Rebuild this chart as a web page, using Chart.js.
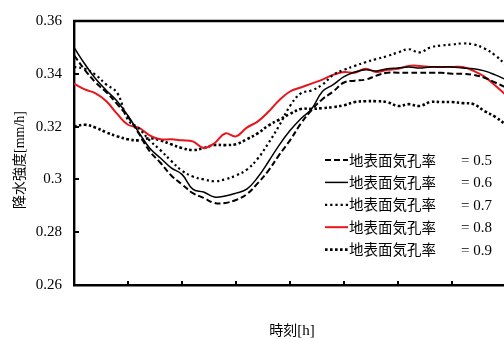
<!DOCTYPE html>
<html>
<head>
<meta charset="utf-8">
<script src="https://cdn.jsdelivr.net/npm/chart.js@4.4.1/dist/chart.umd.min.js"></script>
<style>
  html, body { margin: 0; padding: 0; background: #fff; overflow: hidden; width: 504px; height: 340px; }
  canvas { display: block; }
</style>
</head>
<body>
<canvas id="c" width="510" height="340"></canvas>
<script>
// time axis [h]
const hours = [0, 0.2, 0.4, 0.6, 0.8, 1, 1.2, 1.4, 1.6, 1.8, 2, 2.2, 2.4, 2.6, 2.8, 3, 3.2, 3.4, 3.6, 3.8,
  4, 4.2, 4.4, 4.6, 4.8, 5, 5.2, 5.4, 5.6, 5.8, 6, 6.2, 6.4, 6.6, 6.8, 7, 7.2, 7.4, 7.6, 7.8, 8];

// precipitation intensity [mm/h] for each surface stomatal ratio
const rate05 = [0.3470, 0.3415, 0.3367, 0.3330, 0.3285, 0.3237, 0.3174, 0.3107, 0.3063, 0.3015,
  0.2981, 0.2948, 0.2930, 0.2911, 0.2911, 0.2922, 0.2944, 0.2985, 0.3033, 0.3093,
  0.3148, 0.3211, 0.3263, 0.3304, 0.3333, 0.3367, 0.3374, 0.3378, 0.3393, 0.3404,
  0.3404, 0.3404, 0.3404, 0.3404, 0.3404, 0.3400, 0.3400, 0.3396, 0.3385, 0.3367, 0.3348];
const rate06 = [0.3500, 0.3437, 0.3381, 0.3337, 0.3296, 0.3241, 0.3178, 0.3119, 0.3081, 0.3044,
  0.3019, 0.2963, 0.2952, 0.2933, 0.2937, 0.2948, 0.2963, 0.3007, 0.3067, 0.3130,
  0.3185, 0.3230, 0.3267, 0.3333, 0.3359, 0.3389, 0.3407, 0.3415, 0.3411, 0.3419,
  0.3422, 0.3426, 0.3422, 0.3426, 0.3426, 0.3426, 0.3422, 0.3419, 0.3411, 0.3396, 0.3378];
const rate07 = [0.3426, 0.3419, 0.3396, 0.3359, 0.3328, 0.3225, 0.3193, 0.3148, 0.3111, 0.3070,
  0.3033, 0.3011, 0.3000, 0.2993, 0.3000, 0.3015, 0.3037, 0.3078, 0.3137, 0.3204,
  0.3278, 0.3326, 0.3337, 0.3359, 0.3396, 0.3415, 0.3430, 0.3444, 0.3456, 0.3467,
  0.3481, 0.3493, 0.3481, 0.3500, 0.3507, 0.3511, 0.3515, 0.3511, 0.3496, 0.3470, 0.3433];
const rate08 = [0.3363, 0.3341, 0.3326, 0.3296, 0.3248, 0.3207, 0.3196, 0.3167, 0.3152, 0.3152,
  0.3148, 0.3144, 0.3119, 0.3137, 0.3174, 0.3163, 0.3196, 0.3219, 0.3256, 0.3300,
  0.3333, 0.3348, 0.3363, 0.3378, 0.3396, 0.3407, 0.3404, 0.3419, 0.3407, 0.3415,
  0.3419, 0.3430, 0.3430, 0.3426, 0.3426, 0.3426, 0.3426, 0.3411, 0.3389, 0.3356, 0.3319];
const rate09 = [0.3200, 0.3207, 0.3196, 0.3178, 0.3163, 0.3152, 0.3148, 0.3156, 0.3148, 0.3133,
  0.3119, 0.3111, 0.3119, 0.3130, 0.3130, 0.3133, 0.3152, 0.3174, 0.3204, 0.3226,
  0.3248, 0.3267, 0.3267, 0.3270, 0.3274, 0.3281, 0.3293, 0.3296, 0.3296, 0.3293,
  0.3278, 0.3285, 0.3278, 0.3293, 0.3293, 0.3293, 0.3289, 0.3285, 0.3259, 0.3237, 0.3207];

const seriesName = '地表面気孔率';
const ratios = ['0.5', '0.6', '0.7', '0.8', '0.9'];

const yTicks = [0.26, 0.28, 0.30, 0.32, 0.34, 0.36];
const yTickLabels = ['0.26', '0.28', '0.3', '0.32', '0.34', '0.36'];
const xTicks = [1, 2, 3, 4, 5, 6, 7];

// axis titles: [Japanese part, unit part]
const xTitle = ['時刻', '[h]'];
const yTitle = ['降水強度', '[mm/h]'];

const SERIF = '"Liberation Serif", serif';
const CJK = '"Noto Sans CJK JP", sans-serif';

const styles = [
  { color: '#000', width: 2, dash: [6, 3] },
  { color: '#000', width: 1.5, dash: [] },
  { color: '#000', width: 2.2, dash: [2.2, 3] },
  { color: '#e8161c', width: 2, dash: [] },
  { color: '#000', width: 2.6, dash: [2.6, 2.4] }
];
const rates = [rate05, rate06, rate07, rate08, rate09];

const datasets = rates.map((vals, k) => ({
  label: seriesName + ' = ' + ratios[k],
  data: hours.map((h, i) => ({ x: h, y: vals[i] })),
  borderColor: styles[k].color,
  borderWidth: styles[k].width,
  borderDash: styles[k].dash,
  borderCapStyle: 'butt',
  pointRadius: 0,
  tension: 0.4,
  fill: false
}));

// draws a Japanese word followed by a serif unit, centred on (0,0) of the current transform
function drawTitle(ctx, parts, cjkSize, serifSize) {
  ctx.font = cjkSize + 'px ' + CJK;
  const w1 = ctx.measureText(parts[0]).width;
  ctx.font = serifSize + 'px ' + SERIF;
  const w2 = ctx.measureText(parts[1]).width;
  const start = -(w1 + w2) / 2;
  ctx.textAlign = 'left';
  ctx.textBaseline = 'middle';
  ctx.font = cjkSize + 'px ' + CJK;
  ctx.fillText(parts[0], start, 0);
  ctx.font = serifSize + 'px ' + SERIF;
  ctx.fillText(parts[1], start + w1, 1);
}

// frame, inward ticks, legend block and axis titles
const decor = {
  id: 'decor',
  afterDatasetsDraw(chart) {
    const { ctx, chartArea: a, scales: { x, y } } = chart;
    ctx.save();
    ctx.strokeStyle = '#000';
    ctx.setLineDash([]);

    ctx.lineWidth = 2.6;
    ctx.beginPath();
    ctx.moveTo(a.left - 1, a.top);
    ctx.lineTo(a.right + 4, a.top);
    ctx.stroke();

    ctx.lineWidth = 2;
    yTicks.forEach(v => {
      const py = Math.round(y.getPixelForValue(v));
      ctx.beginPath();
      ctx.moveTo(a.left, py);
      ctx.lineTo(a.left + 5, py);
      ctx.stroke();
    });
    xTicks.forEach(v => {
      const px = Math.round(x.getPixelForValue(v));
      ctx.beginPath();
      ctx.moveTo(px, a.bottom);
      ctx.lineTo(px, a.bottom - 4);
      ctx.stroke();
    });

    // legend
    const lx = 325, ly = 160, step = 22.4;
    chart.data.datasets.forEach((ds, k) => {
      const ry = ly + k * step;
      ctx.strokeStyle = ds.borderColor;
      ctx.lineWidth = ds.borderWidth;
      ctx.setLineDash(ds.borderDash);
      ctx.beginPath();
      ctx.moveTo(lx, ry);
      ctx.lineTo(lx + 23, ry);
      ctx.stroke();
      ctx.setLineDash([]);
      ctx.fillStyle = '#000';
      ctx.textBaseline = 'middle';
      ctx.textAlign = 'left';
      ctx.font = '14.5px ' + CJK;
      ctx.fillText(seriesName, lx + 24, ry);
      ctx.font = '15px ' + SERIF;
      ctx.fillText('= ' + ratios[k], 461, ry + 1);
    });

    // axis titles
    ctx.fillStyle = '#000';
    ctx.save();
    ctx.translate((a.left + a.right) / 2 + 2, 330);
    drawTitle(ctx, xTitle, 14, 15);
    ctx.restore();
    ctx.save();
    ctx.translate(19, (a.top + a.bottom) / 2 + 7);
    ctx.rotate(-Math.PI / 2);
    drawTitle(ctx, yTitle, 14, 14);
    ctx.restore();

    ctx.restore();
  }
};

new Chart(document.getElementById('c'), {
  type: 'line',
  data: { datasets },
  options: {
    responsive: false,
    animation: false,
    devicePixelRatio: 1,
    layout: { padding: { top: 15, right: 4, bottom: 0, left: 0 } },
    plugins: { legend: { display: false }, tooltip: { enabled: false } },
    scales: {
      x: {
        type: 'linear',
        min: 0,
        max: 8,
        grid: { display: false },
        border: { display: true, color: '#000', width: 2.6 },
        ticks: { display: false },
        afterFit(scale) { scale.height = 55; }
      },
      y: {
        min: 0.26,
        max: 0.36,
        grid: { display: false, drawTicks: false },
        border: { display: true, color: '#000', width: 2.4 },
        afterBuildTicks(scale) { scale.ticks = yTicks.map(v => ({ value: v })); },
        ticks: {
          padding: 12,
          color: '#000',
          font: { family: SERIF, size: 15 },
          callback: (value, index) => yTickLabels[index]
        },
        afterFit(scale) { scale.width = 74; }
      }
    }
  },
  plugins: [decor]
});
</script>
</body>
</html>
